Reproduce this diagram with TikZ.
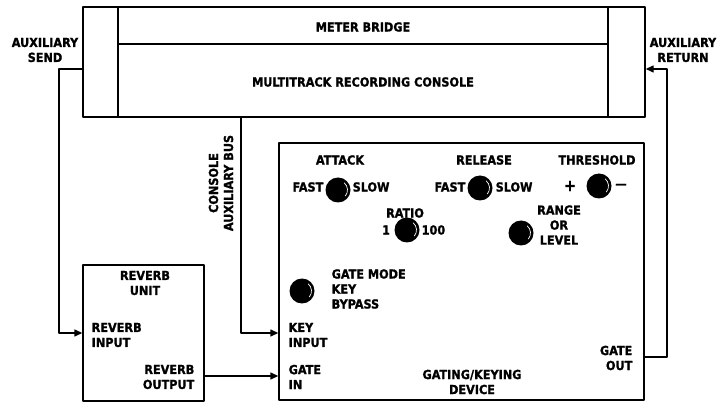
\documentclass[tikz,border=0pt]{standalone}
\usepackage{fontspec}
\setmainfont{DejaVu Sans Condensed}[BoldFeatures={FakeBold=1.2}]
\usetikzlibrary{arrows.meta}
\begin{document}
\begin{tikzpicture}[x=1pt,y=-1pt,
  line width=1.4pt, line join=round,
  lab/.style={font=\bfseries\fontsize{12.5}{15}\selectfont, inner sep=0pt, align=center},
  box/.style={draw, inner sep=0pt},
  arr/.style={-{Triangle[length=8pt,width=7pt]}},
  knob/.style={circle, fill=black, inner sep=0pt, minimum size=25pt,
    path picture={\draw[white,line width=0.7pt] (path picture bounding box.center) ++(-40:9.5pt) arc(-40:50:9.5pt);}}]
\useasboundingbox (0,0) rectangle (720,403);
% boxes
\node[box, minimum width=562pt, minimum height=110pt] (console) at (364,62) {};
\node[box, minimum width=121pt, minimum height=136pt] (reverb) at (143.5,333) {};
\node[box, minimum width=365pt, minimum height=257pt] (gate) at (461.5,271.5) {};
% console inner lines
\coordinate (cl) at (118,7); \coordinate (cr) at (608,7);
\draw (cl) -- (cl |- console.south);
\draw (cr) -- (cr |- console.south);
\draw (cl |- 0,44) -- (cr |- 0,44);
\node[lab] (meter) at (363,27) {METER BRIDGE};
\node[lab] (multi) at (363,82) {MULTITRACK RECORDING CONSOLE};
% side labels
\node[lab] (auxsend) at (45,50) {AUXILIARY\\SEND};
\node[lab] (auxret) at (683,50) {AUXILIARY\\RETURN};
\node[lab, rotate=90] (bus) at (221,183) {CONSOLE\\AUXILIARY BUS};
% reverb labels
\node[lab] (revunit) at (145,283) {REVERB\\UNIT};
\node[lab, anchor=west, align=left] (revin) at (91,335) {REVERB\\INPUT};
\node[lab, anchor=east, align=right] (revout) at (195,377) {REVERB\\OUTPUT};
% gating labels
\node[lab, anchor=west, align=left] (keyin) at (288,335) {KEY\\INPUT};
\node[lab, anchor=west, align=left] (gatein) at (288,377) {GATE\\IN};
\node[lab] (device) at (472,382) {GATING/KEYING\\DEVICE};
\node[lab, anchor=east, align=right] (gateout) at (633,358) {GATE\\OUT};
% knobs
\node[knob] (attack) at (338,190) {};
\node[knob] (release) at (480,188) {};
\node[knob] (thresh) at (599,186) {};
\node[knob] (ratio) at (407,230) {};
\node[knob] (range) at (521,233) {};
\node[knob] (mode) at (302,291) {};
\node[lab] (attackl) at (340,160) {ATTACK};
\node[lab, anchor=east] (afast) at (324,187) {FAST};
\node[lab, anchor=west] (aslow) at (352,187) {SLOW};
\node[lab] (releasel) at (484,160) {RELEASE};
\node[lab, anchor=east] (rfast) at (466,187) {FAST};
\node[lab, anchor=west] (rslow) at (495,187) {SLOW};
\node[lab] (threshl) at (597,160) {THRESHOLD};
\node[lab, font=\bfseries\fontsize{16}{16}\selectfont] (plus) at (570,186) {+};
\node[lab] (minus) at (621,186) {\textemdash};
\node[lab] (ratiol) at (405,213) {RATIO};
\node[lab] (one) at (386,230) {1};
\node[lab, anchor=west] (hund) at (421,230) {100};
\node[lab] (rangel) at (559,225) {RANGE\\OR\\LEVEL};
\node[lab, anchor=west, align=left] (model) at (331,289) {GATE MODE\\KEY\\BYPASS};
% connectors
\draw[arr] (console.west |- 0,69) -- (59,69) |- (reverb.west |- 0,333);
\draw[arr] (reverb.east |- 0,376) -- (gate.west |- 0,376);
\draw[arr] (241,117) |- (gate.west |- 0,333);
\draw[arr] (gate.east |- 0,357) -- (667,357) |- (console.east |- 0,69);
\end{tikzpicture}
\end{document}
